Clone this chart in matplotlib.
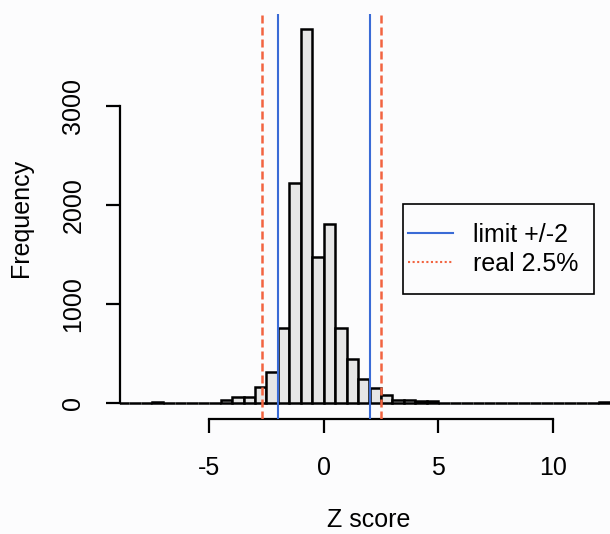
import numpy as np
import matplotlib.pyplot as plt
from matplotlib.patches import Rectangle

plt.rcParams['font.family'] = ['Liberation Sans', 'DejaVu Sans']

# histogram of Z scores, bins of width 0.5 starting at -9.5
bin_start = -9.5
bin_width = 0.5
counts = [0, 0, 0, 0, 12, 0, 5, 5, 5, 5,
          34, 67, 67, 168, 313, 760, 2223, 3781, 1480, 1806,
          760, 447, 249, 151, 84, 34, 34, 20, 20,
          5, 5, 5, 5, 5, 5, 5, 5, 5,
          0, 0, 0, 0, 0, 12]

limit_lines = [-2, 2]
real_lines = [-2.69, 2.51]

x_ticks = [-5, 0, 5, 10]
y_ticks = [0, 1000, 2000, 3000]

W, H = 610, 534
BG = '#fcfcfd'
BLUE = '#3a6bd6'
RED = '#f26440'

fig = plt.figure(figsize=(W / 100, H / 100), dpi=100, facecolor=BG)

# plot region in pixels (R style), right edge runs past the image
left_px, right_px, top_px, bot_px = 120, 617, 13.6, 419
ax = fig.add_axes([left_px / W, 1 - bot_px / H,
                   (right_px - left_px) / W, (bot_px - top_px) / H])
ax.set_facecolor('none')

lefts = bin_start + bin_width * np.arange(len(counts))
ax.bar(lefts, counts, width=bin_width, align='edge', color='#e6e6e6',
       edgecolor='black', linewidth=1.8, zorder=2)

for v in limit_lines:
    ax.axvline(v, color=BLUE, lw=1.5, zorder=3)
for v in real_lines:
    ax.axvline(v, color=RED, lw=1.8, dashes=(3.2, 1.6), zorder=3)

# scale: 0 at px 323.7, 22.9 px per unit; 0 count at px 403.3, 99.1 px per 1000
ax.set_xlim((left_px - 323.7) / 22.9, (right_px - 323.7) / 22.9)
ax.set_ylim(-(bot_px - 403.3) / 0.0991, (403.3 - top_px) / 0.0991)

for s in ['top', 'right']:
    ax.spines[s].set_visible(False)
ax.spines['left'].set_bounds(y_ticks[0], y_ticks[-1])
ax.spines['bottom'].set_bounds(x_ticks[0], x_ticks[-1])
for s in ['left', 'bottom']:
    ax.spines[s].set_linewidth(1.6)

ax.set_xticks(x_ticks)
ax.set_xticklabels([str(t) for t in x_ticks], fontsize=18)
ax.set_yticks(y_ticks)
ax.set_yticklabels([str(t) for t in y_ticks], fontsize=18, rotation=90, va='center')
ax.tick_params(axis='x', length=10, width=1.6, pad=16.6, colors='black')
ax.tick_params(axis='y', length=10, width=1.6, pad=14.9, colors='black')

# overlay in pixel coordinates for axis titles and legend
lay = fig.add_axes([0, 0, 1, 1])
lay.set_xlim(0, W)
lay.set_ylim(H, 0)
lay.axis('off')

lay.text(20.7, 217.5, 'Frequency', rotation=90, ha='center', va='center', fontsize=18)
lay.text(368.5, 532, 'Z score', ha='center', va='bottom', fontsize=18)

lay.add_patch(Rectangle((402.7, 204.3), 594 - 402.7, 294 - 204.3,
                        fill=False, edgecolor='black', lw=1.2))
lay.plot([408, 453], [233.3, 233.3], color=BLUE, lw=1.5)
lay.plot([408, 453], [262.3, 262.3], color=RED, lw=1.5, linestyle=(0, (1, 1.2)))
lay.text(472.7, 242.3, 'limit +/-2', ha='left', va='baseline', fontsize=18)
lay.text(472.7, 271.3, 'real 2.5%', ha='left', va='baseline', fontsize=18)

fig.savefig('out.png', dpi=100, facecolor=BG)
